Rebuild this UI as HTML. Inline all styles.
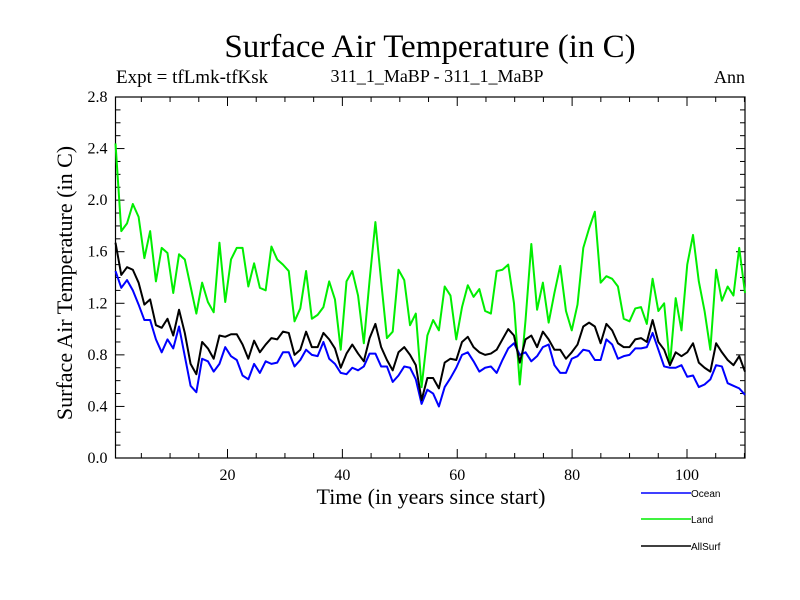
<!DOCTYPE html>
<html><head><meta charset="utf-8"><style>
body{margin:0;background:#fff;}
svg{display:block;}
.serif{font-family:"Liberation Serif",serif;fill:#000;}
.sans{font-family:"Liberation Sans",sans-serif;fill:#000;}
</style></head><body>
<svg id="chart" width="800" height="600" viewBox="0 0 800 600">
<text class="serif" x="430" y="57" font-size="33" text-anchor="middle">Surface Air Temperature (in C)</text>
<text class="serif" x="116" y="83" font-size="19">Expt = tfLmk-tfKsk</text>
<text class="serif" x="437" y="82" font-size="18" text-anchor="middle">311_1_MaBP - 311_1_MaBP</text>
<text class="serif" x="745" y="83" font-size="18" text-anchor="end">Ann</text>
<text class="serif" x="431" y="504" font-size="22" text-anchor="middle">Time (in years since start)</text>
<text class="serif" x="0" y="0" font-size="22" text-anchor="middle" transform="translate(72,283) rotate(-90)">Surface Air Temperature (in C)</text>
<g id="axes"></g>
<g id="series"></g>
<g id="legend"></g>
</svg>
<script>
const years = Array.from({length:110},(_,i)=>i+1);
const ocean = [1.45,1.32,1.38,1.30,1.19,1.07,1.07,0.92,0.82,0.92,0.85,1.02,0.79,0.56,0.51,0.77,0.75,0.67,0.73,0.86,0.79,0.76,0.64,0.61,0.73,0.66,0.75,0.73,0.74,0.82,0.82,0.71,0.76,0.84,0.80,0.79,0.90,0.77,0.73,0.66,0.65,0.70,0.68,0.71,0.81,0.81,0.71,0.71,0.59,0.64,0.71,0.70,0.61,0.42,0.53,0.50,0.40,0.55,0.62,0.70,0.80,0.82,0.75,0.67,0.70,0.71,0.66,0.76,0.85,0.89,0.80,0.82,0.75,0.79,0.86,0.88,0.72,0.66,0.66,0.77,0.79,0.84,0.83,0.76,0.76,0.92,0.88,0.77,0.79,0.80,0.85,0.85,0.86,0.97,0.84,0.71,0.70,0.70,0.72,0.63,0.64,0.55,0.57,0.61,0.72,0.71,0.58,0.56,0.54,0.49];
const land = [2.44,1.76,1.82,1.97,1.87,1.55,1.76,1.37,1.63,1.59,1.28,1.58,1.54,1.33,1.12,1.36,1.21,1.13,1.67,1.21,1.54,1.63,1.63,1.33,1.51,1.32,1.30,1.64,1.54,1.50,1.45,1.06,1.16,1.45,1.08,1.11,1.17,1.37,1.23,0.84,1.37,1.45,1.26,0.89,1.38,1.83,1.37,0.93,0.98,1.46,1.38,1.03,1.12,0.55,0.95,1.07,0.99,1.33,1.26,0.92,1.17,1.34,1.25,1.31,1.14,1.12,1.45,1.46,1.50,1.20,0.57,1.07,1.66,1.15,1.36,1.05,1.28,1.49,1.14,0.99,1.19,1.63,1.78,1.91,1.36,1.41,1.39,1.33,1.08,1.06,1.16,1.17,1.04,1.39,1.14,1.20,0.72,1.24,0.99,1.50,1.73,1.37,1.14,0.84,1.46,1.22,1.33,1.26,1.63,1.28];
const allsurf = [1.67,1.42,1.48,1.46,1.36,1.19,1.23,1.03,1.01,1.08,0.95,1.15,0.97,0.73,0.65,0.90,0.85,0.77,0.95,0.94,0.96,0.96,0.88,0.77,0.91,0.82,0.88,0.93,0.92,0.98,0.97,0.80,0.84,0.98,0.86,0.86,0.97,0.92,0.85,0.70,0.81,0.88,0.81,0.75,0.93,1.04,0.86,0.76,0.68,0.82,0.86,0.80,0.72,0.45,0.62,0.62,0.54,0.74,0.77,0.76,0.90,0.94,0.86,0.82,0.80,0.81,0.84,0.92,1.00,0.95,0.74,0.92,0.95,0.86,0.98,0.92,0.84,0.84,0.77,0.82,0.88,1.02,1.05,1.02,0.89,1.04,0.99,0.89,0.86,0.86,0.92,0.93,0.90,1.07,0.90,0.84,0.72,0.82,0.79,0.82,0.89,0.74,0.70,0.67,0.89,0.82,0.76,0.72,0.79,0.67];
const xTicks = [20,40,60,80,100];
const yTicks = [0.0,0.4,0.8,1.2,1.6,2.0,2.4,2.8];
const yTickLabels = ["0.0","0.4","0.8","1.2","1.6","2.0","2.4","2.8"];
const seriesNames = ["Ocean","Land","AllSurf"];

const L=115.5,R=745,T=97,B=458;
const X0=0.5,X1=110.1,Y0=0,Y1=2.8;
const xs=t=>L+(t-X0)/(X1-X0)*(R-L);
const ys=v=>B-(v-Y0)/(Y1-Y0)*(B-T);
const NS='http://www.w3.org/2000/svg';
function mk(tag,attrs,parent){const e=document.createElementNS(NS,tag);for(const k in attrs)e.setAttribute(k,attrs[k]);parent.appendChild(e);return e;}
const axes=document.getElementById('axes');
const frame=mk('rect',{x:L,y:T,width:R-L,height:B-T,fill:'none',stroke:'#000','stroke-width':1.2},axes);


for(let t=5;t<=110;t+=5){
  const maj=t%20===0, len=maj?9:5, x=xs(t);
  const a=mk('line',{x1:x,x2:x,y1:B,y2:B-len,stroke:'#000','stroke-width':1},axes);
  
  
  const b=mk('line',{x1:x,x2:x,y1:T,y2:T+len,stroke:'#000','stroke-width':1},axes);
  
  
}
xTicks.forEach(t=>{
  const tx=mk('text',{x:xs(t),y:B+22,'font-size':16,'text-anchor':'middle',class:'serif'},axes);
  tx.textContent=t;
  
  
});
for(let k=0;k<=28;k++){
  const v=k/10, maj=k%4===0, len=maj?9:5, y=ys(v);
  const a=mk('line',{x1:L,x2:L+len,y1:y,y2:y,stroke:'#000','stroke-width':1},axes);
  
  
  const b=mk('line',{x1:R,x2:R-len,y1:y,y2:y,stroke:'#000','stroke-width':1},axes);
  
  
}
yTicks.forEach((v,i)=>{
  const tx=mk('text',{x:L-8,y:ys(v)+5,'font-size':16,'text-anchor':'end',class:'serif'},axes);
  tx.textContent=yTickLabels[i];
  
  
});
const sg=document.getElementById('series');
const colors=['#0000ff','#00ee00','#000000'];
const order=[1,0,2];
order.forEach(si=>{
  const d=[ocean,land,allsurf][si];
  const n=d.length;
  const pts=d.map((v,i)=>xs(X0+i*(X1-X0)/(n-1)).toFixed(2)+','+ys(v).toFixed(2)).join(' ');
  const p=mk('polyline',{points:pts,fill:'none',stroke:colors[si],'stroke-width':2,'stroke-linejoin':'round'},sg);
  
  
});
const lg=document.getElementById('legend');
const ly=[493,519,546];
seriesNames.forEach((nm,i)=>{
  const ln=mk('line',{x1:641,x2:691,y1:ly[i],y2:ly[i],stroke:colors[i],'stroke-width':1.5},lg);
  
  
  const tx=mk('text',{x:691,y:ly[i]+4,'font-size':10,class:'sans'},lg);
  tx.textContent=nm;
  
  
});
</script>
</body></html>
